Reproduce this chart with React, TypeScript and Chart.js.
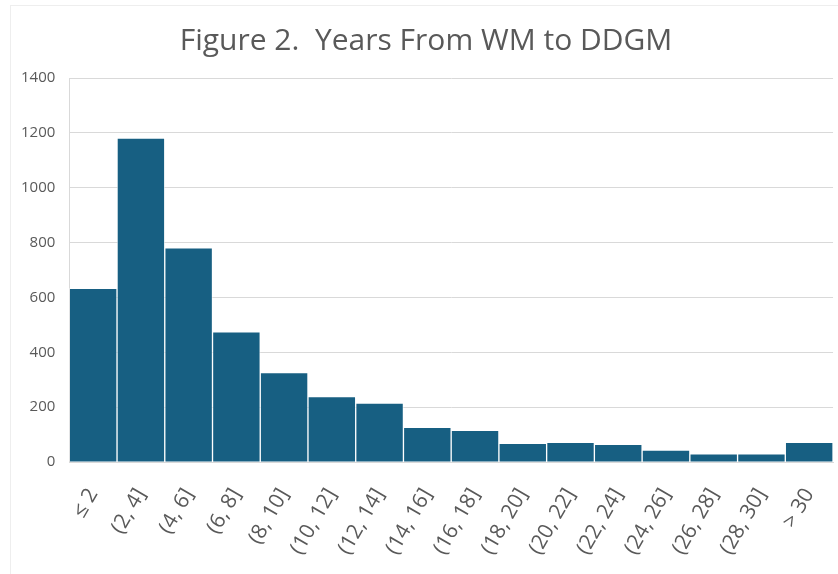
import React, { useEffect, useRef } from "react";
import { Chart, registerables } from "chart.js";

Chart.register(...registerables);

const categories = ["≤ 2", "(2, 4]", "(4, 6]", "(6, 8]", "(8, 10]", "(10, 12]", "(12, 14]", "(14, 16]", "(16, 18]", "(18, 20]", "(20, 22]", "(22, 24]", "(24, 26]", "(26, 28]", "(28, 30]", "> 30"];
const counts = [633, 1181, 781, 475, 326, 239, 215, 127, 116, 68, 72, 65, 44, 30, 30, 72];
const yMax = 1400;
const yStep = 200;
const titleText = "Figure 2.  Years From WM to DDGM";

const FONT = "'Open Sans', 'Noto Sans', sans-serif";

export default function App() {
  const ref = useRef<HTMLCanvasElement | null>(null);
  useEffect(() => {
    if (!ref.current) return;
    const chart = new Chart(ref.current, {
      type: "bar",
      data: {
        labels: categories,
        datasets: [
          {
            data: counts,
            backgroundColor: "#175f82",
            borderColor: "rgba(255,255,255,0.55)",
            borderWidth: 1,
            barPercentage: 1,
            categoryPercentage: 1,
          },
        ],
      },
      options: {
        animation: false,
        responsive: false,
        maintainAspectRatio: false,
        layout: { padding: { left: 7, right: 0, top: 15, bottom: 1 } },
        plugins: {
          legend: { display: false },
          tooltip: { enabled: false },
          title: {
            display: true,
            text: titleText,
            color: "#595959",
            font: { family: FONT, size: 30, weight: "normal" },
            padding: { top: 8, bottom: 19 },
          },
        },
        scales: {
          x: {
            grid: { display: false },
            border: { color: "#d9d9d9" },
            ticks: {
              color: "#595959",
              font: { family: FONT, size: 21 },
              minRotation: 60,
              maxRotation: 60,
              autoSkip: false,
              padding: 14,
            },
          },
          y: {
            min: 0,
            max: yMax,
            grid: { color: "#d9d9d9", drawTicks: false },
            border: { display: true, color: "#d9d9d9" },
            ticks: {
              stepSize: yStep,
              color: "#595959",
              font: { family: FONT, size: 15 },
              padding: 14,
              callback: (v: any) => String(v),
            },
          },
        },
      },
    });
    return () => chart.destroy();
  }, []);
  return (
    <div style={{ position: "absolute", left: 0, top: 0, width: 838, height: 574, background: "#fff", overflow: "hidden" }}>
      <div style={{ position: "absolute", left: 10, top: 5, width: 840, height: 580, border: "1px solid #eeeeee" }} />
      <canvas ref={ref} width={845} height={574} style={{ position: "absolute", left: 0, top: 0 }} />
    </div>
  );
}
